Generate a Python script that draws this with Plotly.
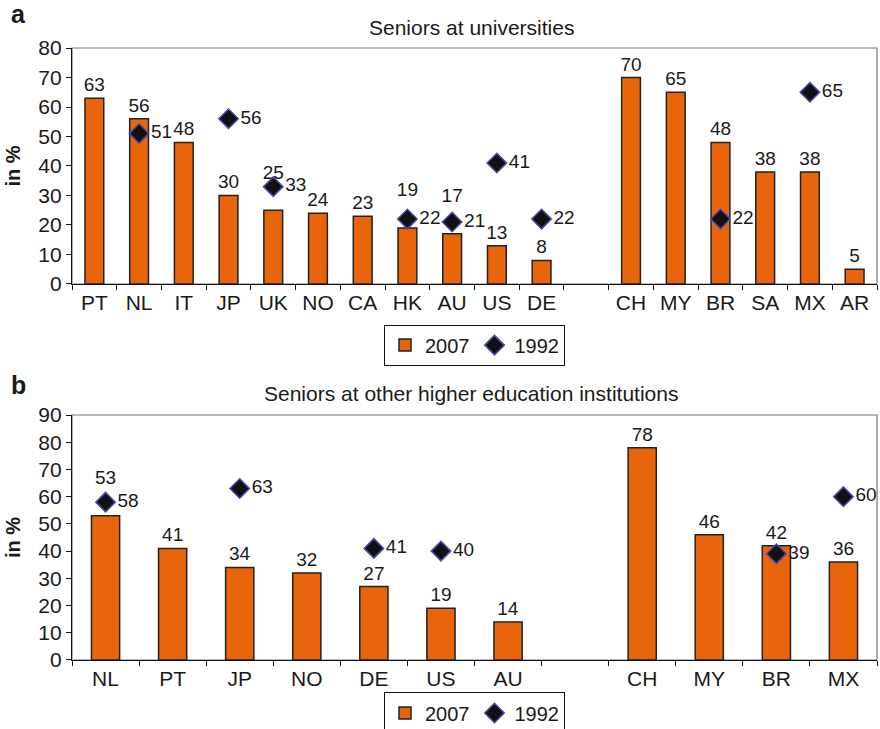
import plotly.graph_objects as go

# Panel a: seniors at universities
uni_left = ["PT", "NL", "IT", "JP", "UK", "NO", "CA", "HK", "AU", "US", "DE"]
uni_right = ["CH", "MY", "BR", "SA", "MX", "AR"]
uni_2007 = [63, 56, 48, 30, 25, 24, 23, 19, 17, 13, 8, 70, 65, 48, 38, 38, 5]
uni_1992_countries = ["NL", "JP", "UK", "HK", "AU", "US", "DE", "BR", "MX"]
uni_1992 = [51, 56, 33, 22, 21, 41, 22, 22, 65]

# Panel b: seniors at other higher education institutions
oth_left = ["NL", "PT", "JP", "NO", "DE", "US", "AU"]
oth_right = ["CH", "MY", "BR", "MX"]
oth_2007 = [53, 41, 34, 32, 27, 19, 14, 78, 46, 42, 36]
oth_1992_countries = ["NL", "JP", "DE", "US", "BR", "MX"]
oth_1992 = [58, 63, 41, 40, 39, 60]

ORANGE = "#E8650C"
FONT = "Liberation Sans, Arial, sans-serif"
TXT = "#1a1a1a"
GAP = " "

fig = go.Figure()


def bar_labels(cats, vals, c92, v92):
    # lift a bar's value label one line when a 1992 marker sits just above the bar
    old = dict(zip(c92, v92))
    out = []
    for c, v in zip(cats, vals):
        d = old.get(c)
        if d is not None and 0 < d - v <= 8:
            out.append(f"{v}<br> ")
        else:
            out.append(str(v))
    return out


def add_panel(xa, ya, legend, left, right, vals, c92, v92):
    cats = left + right
    fig.add_trace(go.Bar(
        x=cats, y=vals, xaxis=xa, yaxis=ya, name="2007", legend=legend,
        width=0.42, marker=dict(color=ORANGE, line=dict(color="#222", width=1.5)),
        text=bar_labels(cats, vals, c92, v92), textposition="outside",
        constraintext="none", cliponaxis=False,
        textfont=dict(size=19, color=TXT, family=FONT),
    ))
    fig.add_trace(go.Scatter(
        x=c92, y=v92, xaxis=xa, yaxis=ya, name="1992", legend=legend,
        mode="markers+text", text=["\u200a" + str(v) for v in v92],
        textposition="middle right", cliponaxis=False,
        textfont=dict(size=19, color=TXT, family=FONT),
        marker=dict(symbol="diamond", size=15, color="#111",
                    line=dict(color="#4a4ab0", width=1.5)),
    ))


add_panel("x", "y", "legend", uni_left, uni_right, uni_2007, uni_1992_countries, uni_1992)
add_panel("x2", "y2", "legend2", oth_left, oth_right, oth_2007, oth_1992_countries, oth_1992)

top_dom = [0.6144, 1.0]
bot_dom = [0.0, 0.4003]

xcommon = dict(type="category", showline=True, linecolor="#111", linewidth=1.2,
               ticks="outside", ticklen=5, tickcolor="#111", tickson="boundaries",
               tickfont=dict(size=21, color=TXT, family=FONT), showgrid=False,
               domain=[0, 1], automargin=False)
ycommon = dict(showline=True, linecolor="#111", linewidth=1.2, ticks="outside",
               ticklen=5, tickcolor="#111", showgrid=False, zeroline=False,
               automargin=False,
               tickfont=dict(size=21, color=TXT, family=FONT),
               title=dict(text="<b>in %</b>", font=dict(size=20, color=TXT, family=FONT),
                          standoff=12))

legend_style = dict(orientation="h", x=0.5, xanchor="center", yanchor="top",
                    bordercolor="#111", borderwidth=1, bgcolor="white",
                    font=dict(size=20, color=TXT, family=FONT), itemwidth=30)

fig.update_layout(
    width=880, height=729,
    margin=dict(l=72, r=3, t=48, b=69, autoexpand=False),
    paper_bgcolor="white", plot_bgcolor="white",
    font=dict(family=FONT, color=TXT),
    xaxis=dict(xcommon, anchor="y",
               categoryarray=uni_left + [GAP] + uni_right, categoryorder="array",
               range=[-0.5, len(uni_left) + len(uni_right) + 0.5]),
    yaxis=dict(ycommon, domain=top_dom, anchor="x", range=[0, 80], dtick=10),
    xaxis2=dict(xcommon, anchor="y2",
                categoryarray=oth_left + [GAP] + oth_right, categoryorder="array",
                range=[-0.5, len(oth_left) + len(oth_right) + 0.5]),
    yaxis2=dict(ycommon, domain=bot_dom, anchor="x2", range=[0, 90], dtick=10),
    legend=dict(legend_style, y=0.548),
    legend2=dict(legend_style, y=-0.053),
    annotations=[
        dict(text="<b>a</b>", xref="paper", yref="paper", x=-0.078, y=1.056,
             xanchor="left", yanchor="middle", showarrow=False,
             font=dict(size=25, color=TXT, family=FONT)),
        dict(text="<b>b</b>", xref="paper", yref="paper", x=-0.078, y=0.45,
             xanchor="left", yanchor="middle", showarrow=False,
             font=dict(size=25, color=TXT, family=FONT)),
        dict(text="Seniors at universities", xref="paper", yref="paper", x=0.496,
             y=1.034, xanchor="center", yanchor="middle", showarrow=False,
             font=dict(size=21, color=TXT, family=FONT)),
        dict(text="Seniors at other higher education institutions", xref="paper",
             yref="paper", x=0.496, y=0.436, xanchor="center", yanchor="middle",
             showarrow=False, font=dict(size=21, color=TXT, family=FONT)),
    ],
    shapes=[
        dict(type="rect", xref="paper", yref="paper", x0=0, x1=1, y0=top_dom[0],
             y1=top_dom[1], line=dict(color="#777", width=1.2), layer="below"),
        dict(type="rect", xref="paper", yref="paper", x0=0, x1=1, y0=bot_dom[0],
             y1=bot_dom[1], line=dict(color="#777", width=1.2), layer="below"),
    ],
)

fig.write_html("out.html")
